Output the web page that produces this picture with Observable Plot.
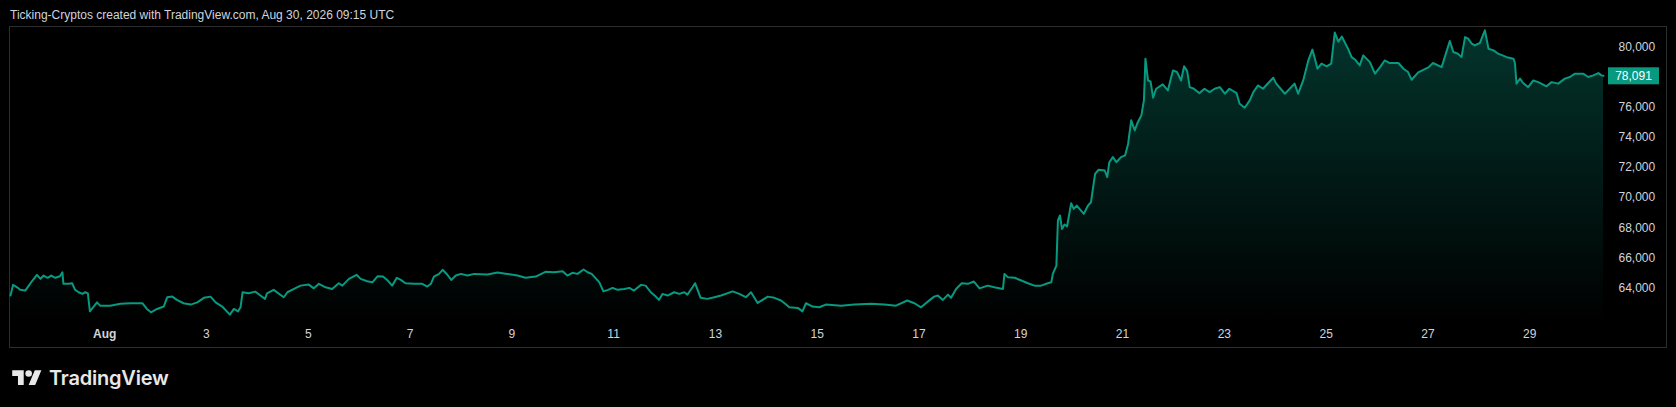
<!DOCTYPE html>
<html>
<head>
<meta charset="utf-8">
<script src="https://cdn.jsdelivr.net/npm/d3@7"></script>
<script src="https://cdn.jsdelivr.net/npm/@observablehq/plot@0.6"></script>
<style>
  html, body { margin: 0; background: #000; }
  body { position: relative; width: 1676px; height: 407px; overflow: hidden; font-family: "Liberation Sans", Arial, sans-serif; }
  #header { position: absolute; left: 10px; top: 7px; font-size: 12px; line-height: 16px; color: #d1d4dc; white-space: nowrap; }
  #frame { position: absolute; left: 9px; top: 26px; width: 1658px; height: 322px; box-sizing: border-box; border: 1px solid #2e2e2e; }
  #chart { position: absolute; left: 0; top: 0; }
  #logo { position: absolute; left: 12px; top: 366px; display: flex; align-items: center; gap: 7px; color: #e8e8e9; font-family: Inter, "Noto Sans", sans-serif; font-weight: 600; font-size: 20px; letter-spacing: -0.2px; }
</style>
</head>
<body>
<div id="header">Ticking-Cryptos created with TradingView.com, Aug 30, 2026 09:15 UTC</div>
<div id="frame"></div>
<div id="chart"></div>
<div id="logo">
  <svg width="30" height="23" viewBox="0 0 36 28"><path fill="#e8e8e9" d="M14 22H7V11H0V4h14v18zM28 22h-8l7.5-18h8L28 22z"/><circle fill="#e8e8e9" cx="20" cy="8" r="4"/></svg>
  <span>TradingView</span>
</div>
<script>
// price series: days after Aug 1 00:00 UTC, and price
const dayOffsets = [
  -1.85, -1.80, -1.72, -1.66, -1.56, -1.49, -1.43, -1.33, -1.26, -1.20, -1.12, -1.05, -0.97, -0.88, -0.83, -0.81,
  -0.71, -0.64, -0.58, -0.51, -0.44, -0.38, -0.33, -0.29, -0.15, -0.09, 0.11, 0.31, 0.51, 0.74, 0.83, 0.91,
  1.03, 1.16, 1.23, 1.33, 1.42, 1.55, 1.69, 1.82, 1.95, 2.08, 2.18, 2.31, 2.46, 2.54, 2.62, 2.67,
  2.71, 2.83, 2.96, 3.06, 3.15, 3.19, 3.32, 3.52, 3.59, 3.72, 3.85, 4.01, 4.11, 4.21, 4.34, 4.47,
  4.60, 4.67, 4.80, 4.95, 5.03, 5.16, 5.26, 5.36, 5.47, 5.55, 5.65, 5.74, 5.82, 5.91, 6.08, 6.24,
  6.34, 6.41, 6.47, 6.57, 6.64, 6.73, 6.81, 6.90, 7.00, 7.13, 7.26, 7.52, 7.72, 7.91, 8.11, 8.27,
  8.47, 8.67, 8.83, 9.00, 9.09, 9.19, 9.29, 9.41, 9.49, 9.57, 9.72, 9.80, 9.89, 9.98, 10.08, 10.21,
  10.31, 10.40, 10.54, 10.63, 10.73, 10.83, 10.89, 10.96, 11.06, 11.19, 11.29, 11.39, 11.45, 11.55, 11.60, 11.71,
  11.84, 11.98, 12.11, 12.34, 12.47, 12.60, 12.70, 12.83, 13.03, 13.16, 13.29, 13.39, 13.45, 13.62, 13.71, 13.78,
  13.91, 14.04, 14.17, 14.47, 14.73, 15.06, 15.32, 15.55, 15.77, 15.91, 16.04, 16.24, 16.30, 16.37, 16.47, 16.57,
  16.63, 16.73, 16.84, 16.96, 17.08, 17.19, 17.35, 17.48, 17.65, 17.68, 17.75, 17.88, 18.01, 18.14, 18.27, 18.40,
  18.53, 18.60, 18.63, 18.70, 18.73, 18.77, 18.81, 18.86, 18.91, 18.99, 19.04, 19.10, 19.24, 19.32, 19.38, 19.46,
  19.53, 19.65, 19.70, 19.74, 19.81, 19.88, 19.97, 20.05, 20.11, 20.17, 20.24, 20.30, 20.37, 20.42, 20.45, 20.50,
  20.55, 20.60, 20.66, 20.79, 20.89, 20.99, 21.07, 21.15, 21.21, 21.27, 21.32, 21.40, 21.51, 21.61, 21.71, 21.81,
  21.91, 22.01, 22.10, 22.24, 22.30, 22.40, 22.50, 22.57, 22.66, 22.76, 22.96, 23.02, 23.19, 23.38, 23.45, 23.55,
  23.65, 23.73, 23.78, 23.83, 23.91, 24.01, 24.10, 24.17, 24.24, 24.31, 24.43, 24.50, 24.57, 24.66, 24.73, 24.86,
  24.96, 25.06, 25.15, 25.25, 25.42, 25.52, 25.61, 25.68, 25.81, 26.01, 26.10, 26.27, 26.43, 26.50, 26.59, 26.66,
  26.73, 26.79, 26.86, 26.92, 27.02, 27.12, 27.19, 27.29, 27.38, 27.55, 27.68, 27.71, 27.74, 27.81, 27.87, 27.97,
  28.07, 28.17, 28.33, 28.43, 28.56, 28.69, 28.79, 28.89, 29.05, 29.15, 29.25, 29.35, 29.41, 29.45
];
const prices = [
  63490, 64200, 64040, 63870, 63820, 64150, 64440, 64870, 64600, 64820, 64670, 64820, 64670, 64770, 65040, 64270,
  64270, 64310, 63870, 63710, 63600, 63710, 63640, 62440, 63040, 62820, 62820, 62940, 62980, 62980, 62600, 62380,
  62600, 62760, 63380, 63420, 63200, 62980, 62890, 63040, 63340, 63420, 63040, 62760, 62220, 62600, 62440, 62710,
  63710, 63640, 63750, 63490, 63270, 63640, 63870, 63380, 63710, 63930, 64150, 64220, 63970, 64270, 64040, 63930,
  64310, 64150, 64600, 64870, 64600, 64440, 64370, 64770, 64750, 64530, 64150, 64670, 64530, 64310, 64270, 64270,
  64090, 64270, 64750, 64930, 65200, 64890, 64530, 64820, 64930, 64820, 64930, 64890, 65020, 64930, 64820, 64670,
  64750, 65080, 65040, 65100, 64820, 65000, 64930, 65220, 65040, 64930, 64370, 63770, 63870, 64000, 63870, 63930,
  64000, 63820, 64200, 64150, 63710, 63420, 63200, 63600, 63490, 63710, 63600, 63710, 63550, 64040, 64310, 63340,
  63270, 63380, 63490, 63770, 63600, 63380, 63710, 63000, 63420, 63340, 63160, 62890, 62710, 62670, 62440, 62980,
  62760, 62710, 62890, 62820, 62890, 62940, 62890, 62820, 63160, 62980, 62710, 63270, 63420, 63490, 63200, 63550,
  63340, 63930, 64310, 64270, 64420, 63970, 64150, 64040, 63930, 64930, 64700, 64670, 64490, 64310, 64150, 64150,
  64310, 64370, 64930, 65480, 68480, 68810, 67920, 68210, 68080, 69630, 69250, 69470, 68920, 69470, 69690, 71580,
  71850, 71800, 71360, 72350, 72690, 72350, 72690, 72800, 73580, 75130, 74460, 75010, 75460, 76460, 79230, 77780,
  77720, 76640, 77230, 77520, 77120, 78450, 78340, 77780, 78720, 78400, 77340, 77230, 76940, 77230, 77010, 77230,
  77340, 76900, 77230, 76940, 76240, 75970, 76460, 77010, 77450, 77230, 77960, 77570, 76900, 77570, 76900, 77780,
  79110, 79830, 79230, 78560, 78900, 78720, 78900, 80960, 80360, 80690, 79890, 79330, 79160, 78780, 79450, 79000,
  78230, 78670, 79110, 78940, 78940, 78560, 78340, 77830, 78320, 78650, 78940, 78670, 80400, 79670, 79560, 79330,
  80660, 80560, 80230, 80110, 80270, 81110, 79890, 79780, 79560, 79330, 79230, 78940, 77570, 77900, 77610, 77340,
  77780, 77670, 77390, 77670, 77570, 77900, 78010, 78230, 78230, 78010, 78120, 78270, 78120, 78091
];
const dayTicks = [1, 3, 5, 7, 9, 11, 13, 15, 17, 19, 21, 23, 25, 27, 29];
// 78,000 is hidden behind the last-price badge, as in the original
const priceTicks = [64000, 66000, 68000, 70000, 72000, 74000, 76000, 80000];
const yDomain = [61700, 81300];
const lastLabel = "78,091";

const AUG1 = Date.UTC(2026, 7, 1);
const DAY = 864e5;
const green = "#089981";
const rows = dayOffsets.map((d, i) => ({ date: new Date(AUG1 + d * DAY), price: prices[i] }));

// vertical fade under the line
function fadeDefs() {
  const defs = d3.create("svg:defs");
  const g = defs.append("linearGradient").attr("id", "fade").attr("gradientTransform", "rotate(90)");
  g.append("stop").attr("offset", "0%").attr("stop-color", green).attr("stop-opacity", 0.34);
  g.append("stop").attr("offset", "100%").attr("stop-color", green).attr("stop-opacity", 0);
  return defs.node();
}

const plot = Plot.plot({
  width: 1676,
  height: 350,
  marginLeft: 10,
  marginRight: 73,
  marginTop: 27,
  marginBottom: 28,
  style: { background: "transparent", color: "#d1d4dc", fontSize: "12px", fontFamily: "Liberation Sans, Arial, sans-serif" },
  x: {
    type: "utc",
    ticks: dayTicks.map(d => new Date(AUG1 + (d - 1) * DAY)),
    tickFormat: d => d.getUTCDate() === 1 ? "Aug" : String(d.getUTCDate()),
    tickSize: 0,
    tickPadding: 7,
    label: null,
  },
  y: {
    domain: yDomain,
    axis: "right",
    ticks: priceTicks,
    tickFormat: d3.format(","),
    tickSize: 0,
    tickPadding: 15,
    label: null,
  },
  marks: [
    fadeDefs,
    Plot.areaY(rows, { x: "date", y1: () => yDomain[0], y2: "price", fill: "url(#fade)" }),
    Plot.lineY(rows, { x: "date", y: "price", stroke: green, strokeWidth: 2 }),
  ],
});
document.getElementById("chart").appendChild(plot);

// last price badge on the price scale
const xs = plot.scale("x"), ys = plot.scale("y");
const last = rows[rows.length - 1];
const bx = xs.apply(last.date) + 5, by = ys.apply(last.price);
const svg = d3.select(plot);
const badge = svg.append("g");
badge.append("rect").attr("x", bx).attr("y", by - 8).attr("width", 51).attr("height", 17).attr("fill", green);
badge.append("text").attr("x", bx + 25.5).attr("y", by).attr("dy", "0.38em")
  .attr("text-anchor", "middle").attr("fill", "#ffffff").attr("font-size", 12).text(lastLabel);

// month label is bold
svg.selectAll("text").filter(function () { return this.textContent === "Aug"; }).attr("font-weight", "bold");
</script>
</body>
</html>
